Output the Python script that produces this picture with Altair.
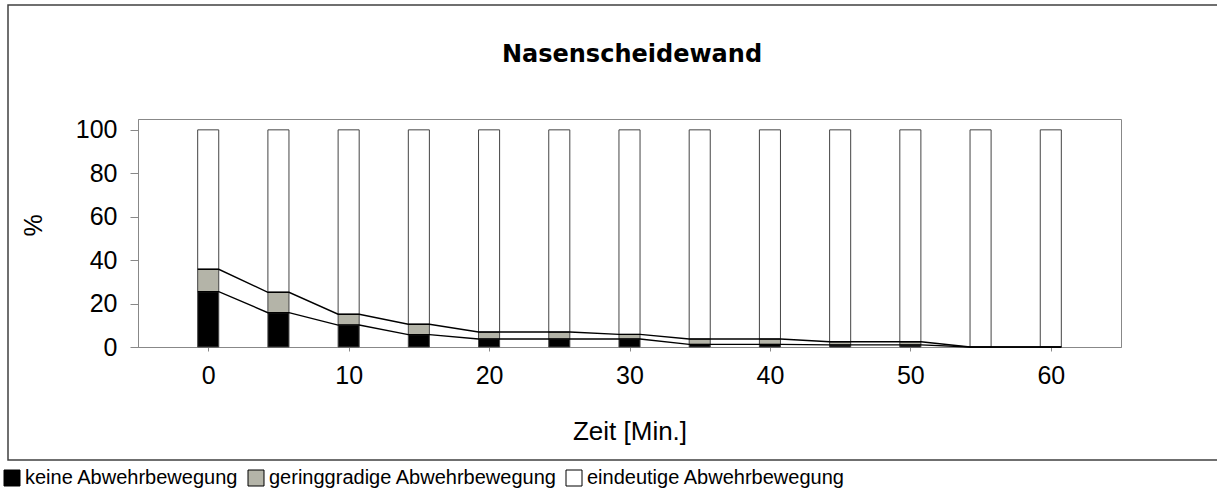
import altair as alt
import pandas as pd

# ---- data ----
minutes = [0, 5, 10, 15, 20, 25, 30, 35, 40, 45, 50, 55, 60]
keine = [25.5, 15.8, 10.1, 5.7, 3.7, 3.7, 3.7, 1.2, 1.2, 1.0, 1.0, 0, 0]
gering = [10.3, 9.4, 5.0, 4.8, 3.2, 3.2, 2.1, 2.5, 2.5, 1.4, 1.4, 0, 0]
series = ["keine Abwehrbewegung", "geringgradige Abwehrbewegung", "eindeutige Abwehrbewegung"]
colors = ["#000000", "#b4b4a8", "#ffffff"]
x_ticks = [0, 10, 20, 30, 40, 50, 60]
y_ticks = [0, 20, 40, 60, 80, 100]
chart_title = "Nasenscheidewand"
half_width = 0.75  # half bar width, in minutes

rows = []
for t, k, g in zip(minutes, keine, gering):
    e = 100 - k - g
    lo = 0.0
    for s, v in zip(series, [k, g, e]):
        if v > 0:
            rows.append(dict(t=t, x0=t - half_width, x1=t + half_width,
                             series=s, y0=lo, y1=lo + v))
        lo += v
bars_df = pd.DataFrame(rows)

line_rows = []
cum2 = [a + b for a, b in zip(keine, gering)]
for name, cum in [("k", keine), ("kg", cum2)]:
    for t, c in zip(minutes, cum):
        line_rows.append(dict(line=name, x=t - half_width, y=c))
        line_rows.append(dict(line=name, x=t + half_width, y=c))
lines_df = pd.DataFrame(line_rows)

xscale = alt.Scale(domain=[-5, 65], nice=False, zero=False)
yscale = alt.Scale(domain=[0, 105], nice=False)

FONT = "Liberation Sans"

bars = alt.Chart(bars_df).mark_bar(stroke="#444444", strokeWidth=1).encode(
    x=alt.X("x0:Q", scale=xscale,
            axis=alt.Axis(values=x_ticks, title="Zeit [Min.]", tickSize=4,
                          labelPadding=12, labelFontSize=25, labelFont=FONT,
                          titleFont=FONT, titleFontSize=26, titleFontWeight="normal",
                          titleY=84, titleBaseline="middle", grid=False,
                          domainColor="#888888", tickColor="#888888",
                          labelColor="#000000", titleColor="#000000")),
    x2="x1:Q",
    y=alt.Y("y0:Q", scale=yscale,
            axis=alt.Axis(values=y_ticks, title="%", tickSize=8, labelPadding=13,
                          labelFontSize=25, labelFont=FONT, titleFont=FONT,
                          titleFontSize=25, titleFontWeight="normal",
                          titleX=-105, titleY=106, titleBaseline="middle",
                          grid=False, domainColor="#888888", tickColor="#888888",
                          labelColor="#000000", titleColor="#000000")),
    y2="y1:Q",
    fill=alt.Fill("series:N", scale=alt.Scale(domain=series, range=colors),
                  legend=alt.Legend(orient="none", legendX=-136, legendY=349,
                                    direction="horizontal", title=None,
                                    symbolType="square", symbolSize=256,
                                    symbolStrokeColor="#000000", symbolStrokeWidth=1,
                                    labelFont=FONT,
                                    labelFontSize=20, labelOffset=3, columnPadding=7,
                                    padding=0, labelLimit=500, labelColor="#000000")),
)

lines = alt.Chart(lines_df).mark_line(color="#000000", strokeWidth=1.4).encode(
    x=alt.X("x:Q", scale=xscale),
    y=alt.Y("y:Q", scale=yscale),
    detail="line:N",
    order="x:Q",
)

title = alt.Chart(pd.DataFrame({"t": [chart_title]})).mark_text(
    font="DejaVu Sans", fontSize=24, fontWeight="bold", baseline="middle",
    align="center", color="#000000"
).encode(text="t:N", x=alt.value(494), y=alt.value(-64))

frame = alt.Chart(pd.DataFrame({"a": [0]})).mark_rect(
    filled=False, stroke="#404040", strokeWidth=1.5
).encode(x=alt.value(-130), x2=alt.value(1200), y=alt.value(-114), y2=alt.value(341))

chart = alt.layer(frame, bars, lines, title).properties(
    width=983, height=228,
    autosize=alt.AutoSizeParams(type="none"),
    padding={"left": 138, "top": 119, "right": 96, "bottom": 150},
    background="#ffffff",
).configure_view(stroke="#888888", strokeWidth=1)

chart.save("out.html", embed_options={"renderer": "svg", "actions": False})
